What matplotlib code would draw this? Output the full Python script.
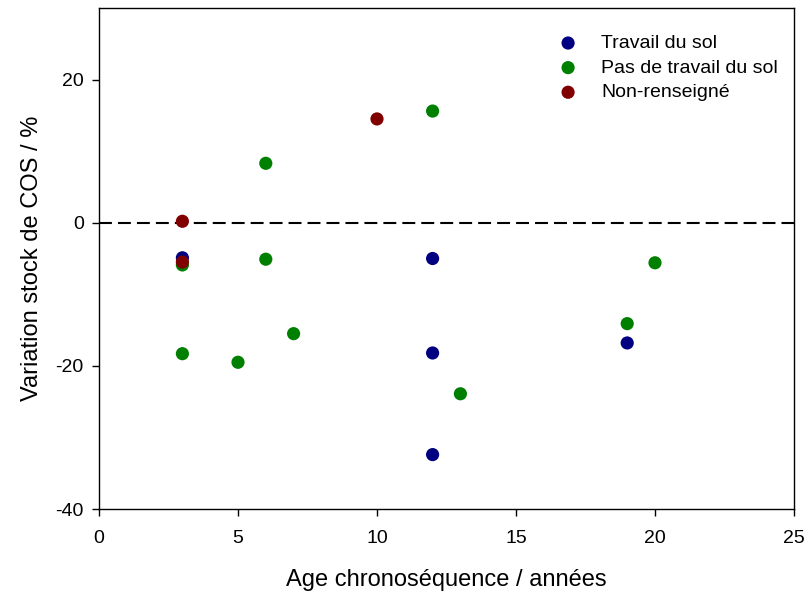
import matplotlib
matplotlib.use("Agg")
import matplotlib.pyplot as plt

plt.rcParams['font.family'] = ['Liberation Sans', 'DejaVu Sans']
plt.rcParams['axes.unicode_minus'] = False

travail_x = [3, 12, 12, 12, 19]
travail_y = [-4.9, -5.0, -18.2, -32.4, -16.8]

pas_travail_x = [3, 3, 5, 6, 6, 7, 12, 13, 19, 20]
pas_travail_y = [-5.9, -18.3, -19.5, 8.3, -5.1, -15.5, 15.6, -23.9, -14.1, -5.6]

non_x = [3, 3, 10]
non_y = [0.2, -5.5, 14.5]

labels = ["Travail du sol", "Pas de travail du sol", "Non-renseigné"]

fig = plt.figure(figsize=(8.08, 5.95), dpi=100)
ax = fig.add_axes([99/808, 1-509/595, (794-99)/808, (509-8)/595])

ax.axhline(0, color='black', lw=1.5, ls=(0, (6.2, 2.9)), zorder=1)
ax.scatter(travail_x, travail_y, s=90, color='#000080', edgecolors='none', label=labels[0], zorder=3)
ax.scatter(pas_travail_x, pas_travail_y, s=90, color='#008000', edgecolors='none', label=labels[1], zorder=3)
ax.scatter(non_x, non_y, s=90, color='#800000', edgecolors='none', label=labels[2], zorder=4)

ax.set_xlim(0, 25)
ax.set_ylim(-40, 30)
ax.set_xticks([0, 5, 10, 15, 20, 25])
ax.set_yticks([-40, -20, 0, 20])
ax.tick_params(direction='out', length=5, width=1, labelsize=14, top=False, right=False)
ax.tick_params(axis='x', pad=10)
ax.tick_params(axis='y', pad=6)
for sp in ax.spines.values():
    sp.set_linewidth(1)

ax.set_xlabel("Age chronoséquence / années", fontsize=17, labelpad=16)
ax.set_ylabel("Variation stock de COS / %", fontsize=17, labelpad=9)

ax.legend(loc='upper right', frameon=False, fontsize=14, handletextpad=0.7,
          bbox_to_anchor=(1.002, 0.982), labelspacing=0.36, scatterpoints=1)

fig.savefig("out.png", dpi=100)
